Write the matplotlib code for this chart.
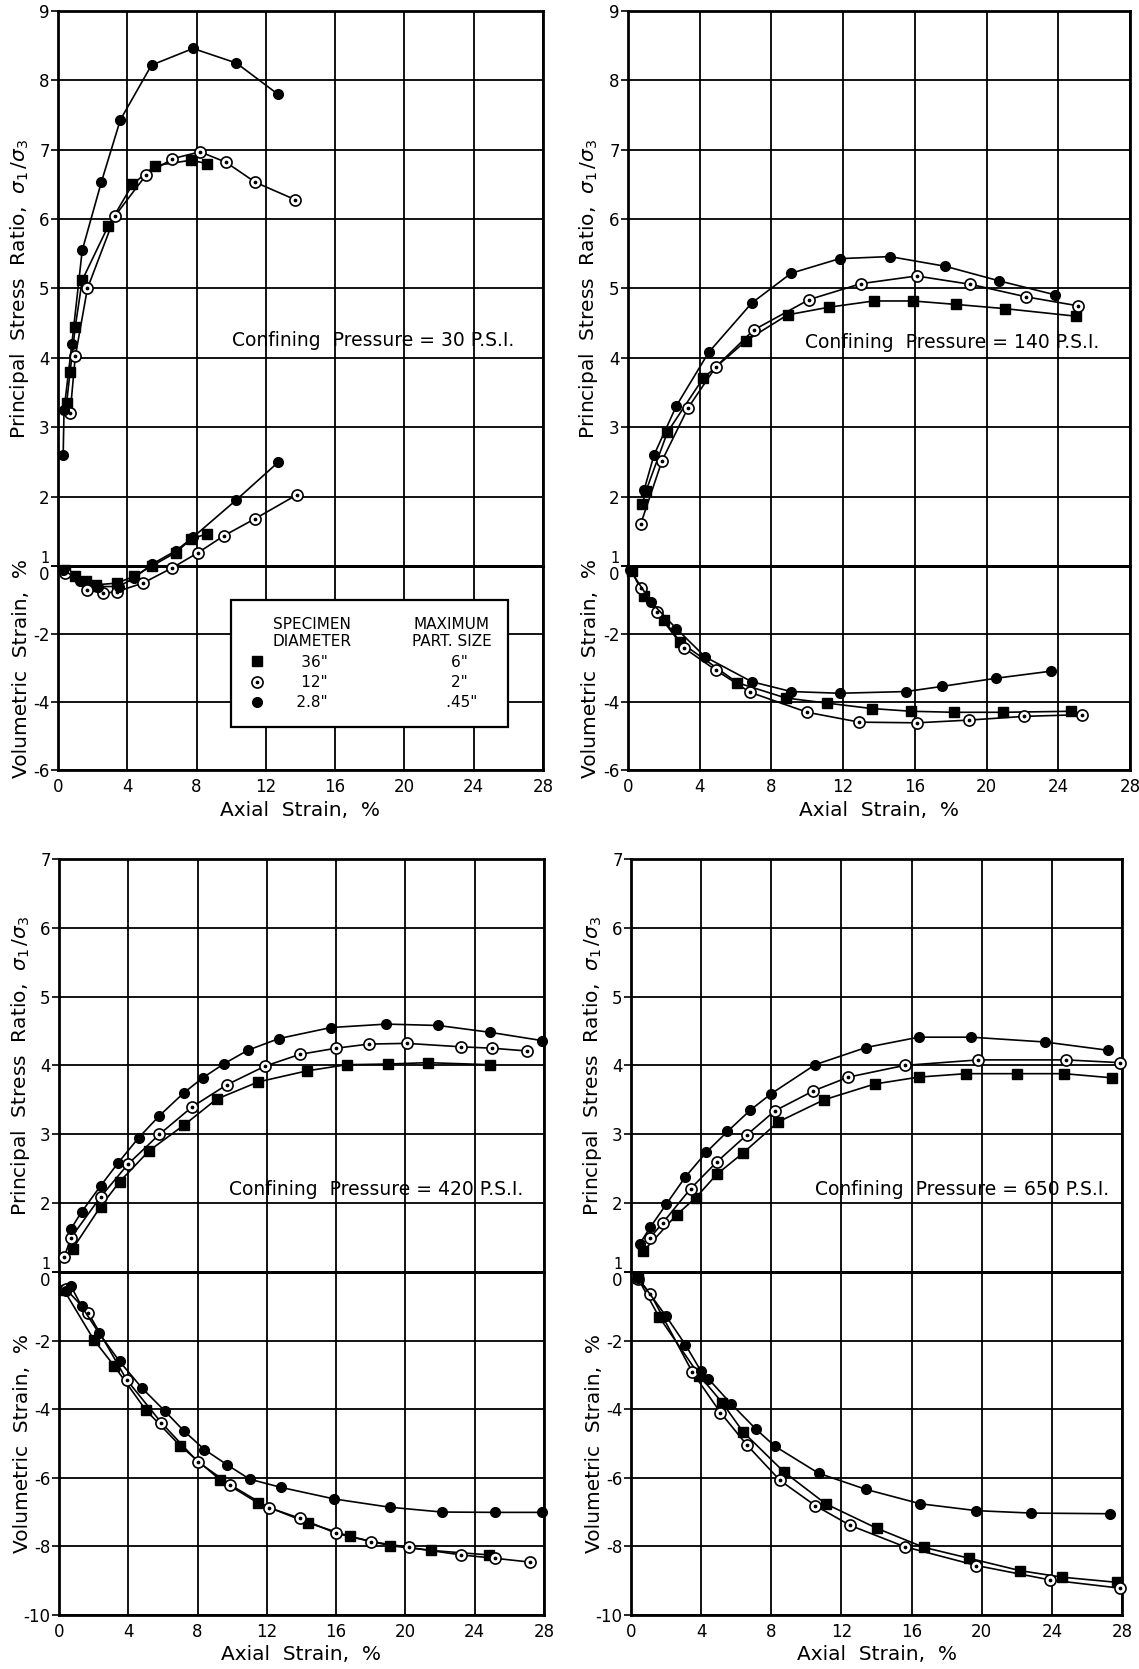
import matplotlib.pyplot as plt
from matplotlib.lines import Line2D

plt.rcParams['font.family'] = 'DejaVu Sans'

# ---- 30 psi ----
p30_ratio_sq_x = [0.5, 0.7, 1.0, 1.4, 2.9, 4.3, 5.6, 7.7, 8.6]
p30_ratio_sq_y = [3.35, 3.8, 4.45, 5.12, 5.9, 6.5, 6.77, 6.85, 6.8]
p30_ratio_op_x = [0.7, 1.0, 1.7, 3.3, 5.1, 6.6, 8.2, 9.7, 11.4, 13.7]
p30_ratio_op_y = [3.2, 4.02, 5.0, 6.05, 6.64, 6.87, 6.97, 6.82, 6.53, 6.28]
p30_ratio_fc_x = [0.3, 0.35, 0.8, 1.4, 2.5, 3.6, 5.4, 7.8, 10.3, 12.7]
p30_ratio_fc_y = [2.6, 3.25, 4.2, 5.55, 6.53, 7.43, 8.22, 8.46, 8.25, 7.8]
p30_vol_sq_x = [0.4, 1.0, 1.6, 2.2, 3.4, 4.4, 5.4, 6.8, 7.7, 8.6]
p30_vol_sq_y = [-0.1, -0.3, -0.45, -0.55, -0.5, -0.3, 0.0, 0.4, 0.8, 0.95]
p30_vol_op_x = [0.4, 1.7, 2.6, 3.4, 4.9, 6.6, 8.1, 9.6, 11.4, 13.8]
p30_vol_op_y = [-0.2, -0.7, -0.8, -0.75, -0.5, -0.05, 0.4, 0.9, 1.4, 2.1]
p30_vol_fc_x = [0.3, 1.3, 2.3, 3.5, 4.4, 5.4, 6.8, 7.8, 10.3, 12.7]
p30_vol_fc_y = [-0.1, -0.45, -0.6, -0.6, -0.35, 0.05, 0.45, 0.85, 1.95, 3.05]

# ---- 140 psi ----
p140_ratio_sq_x = [0.8, 1.0, 2.2, 4.2, 6.6, 8.9, 11.2, 13.7, 15.9, 18.3, 21.0, 25.0]
p140_ratio_sq_y = [1.9, 2.08, 2.93, 3.71, 4.25, 4.62, 4.73, 4.82, 4.82, 4.77, 4.71, 4.6]
p140_ratio_op_x = [0.7, 1.9, 3.35, 4.9, 7.0, 10.1, 13.0, 16.1, 19.1, 22.2, 25.1]
p140_ratio_op_y = [1.6, 2.52, 3.28, 3.87, 4.4, 4.84, 5.07, 5.18, 5.06, 4.88, 4.75]
p140_ratio_fc_x = [0.9, 1.45, 2.7, 4.5, 6.9, 9.1, 11.8, 14.6, 17.7, 20.7, 23.8]
p140_ratio_fc_y = [2.1, 2.6, 3.31, 4.08, 4.79, 5.22, 5.43, 5.46, 5.32, 5.11, 4.91]
p140_vol_sq_x = [0.2, 0.9, 2.0, 2.9, 6.1, 8.8, 11.1, 13.6, 15.8, 18.2, 20.9, 24.7]
p140_vol_sq_y = [-0.15, -0.87, -1.58, -2.23, -3.43, -3.88, -4.03, -4.19, -4.27, -4.3, -4.3, -4.27]
p140_vol_op_x = [0.7, 1.6, 3.1, 4.9, 6.8, 10.0, 12.9, 16.1, 19.0, 22.1, 25.3]
p140_vol_op_y = [-0.63, -1.36, -2.4, -3.06, -3.71, -4.3, -4.59, -4.61, -4.53, -4.42, -4.37]
p140_vol_fc_x = [0.1, 1.3, 2.7, 4.3, 6.9, 9.1, 11.8, 15.5, 17.5, 20.5, 23.6]
p140_vol_fc_y = [-0.1, -1.07, -1.84, -2.67, -3.4, -3.69, -3.74, -3.69, -3.54, -3.3, -3.09]

# ---- 420 psi ----
p420_ratio_sq_x = [0.8, 2.4, 3.5, 5.2, 7.2, 9.1, 11.5, 14.3, 16.6, 19.0, 21.3, 24.9]
p420_ratio_sq_y = [1.34, 1.95, 2.31, 2.76, 3.13, 3.51, 3.76, 3.92, 4.01, 4.02, 4.04, 4.01]
p420_ratio_op_x = [0.3, 0.7, 2.4, 4.0, 5.8, 7.7, 9.7, 11.9, 13.9, 16.0, 17.9, 20.1, 23.2, 25.0, 27.0]
p420_ratio_op_y = [1.22, 1.5, 2.09, 2.57, 3.0, 3.4, 3.72, 3.99, 4.16, 4.25, 4.31, 4.32, 4.27, 4.25, 4.21]
p420_ratio_fc_x = [0.7, 1.3, 2.4, 3.4, 4.6, 5.8, 7.2, 8.3, 9.5, 10.9, 12.7, 15.7, 18.9, 21.9, 24.9, 27.9]
p420_ratio_fc_y = [1.63, 1.87, 2.25, 2.58, 2.95, 3.27, 3.6, 3.82, 4.02, 4.22, 4.39, 4.55, 4.6, 4.58, 4.48, 4.36]
p420_vol_sq_x = [0.3, 2.0, 3.2, 5.0, 7.0, 9.3, 11.5, 14.4, 16.8, 19.1, 21.5, 24.8]
p420_vol_sq_y = [-0.54, -1.97, -2.75, -4.02, -5.07, -6.06, -6.74, -7.32, -7.71, -7.98, -8.12, -8.25]
p420_vol_op_x = [0.4, 1.7, 3.9, 5.9, 8.0, 9.9, 12.1, 13.9, 16.0, 18.0, 20.2, 23.2, 25.2, 27.2]
p420_vol_op_y = [-0.5, -1.2, -3.14, -4.39, -5.53, -6.21, -6.87, -7.18, -7.62, -7.86, -8.03, -8.25, -8.35, -8.46]
p420_vol_fc_x = [0.4, 0.7, 1.3, 2.3, 3.5, 4.8, 6.1, 7.2, 8.4, 9.7, 11.0, 12.8, 15.9, 19.1, 22.1, 25.2, 27.9]
p420_vol_fc_y = [-0.56, -0.42, -1.0, -1.78, -2.61, -3.39, -4.05, -4.63, -5.18, -5.62, -6.04, -6.28, -6.62, -6.86, -7.0, -7.01, -7.01]

# ---- 650 psi ----
p650_ratio_sq_x = [0.7, 2.6, 3.7, 4.9, 6.4, 8.4, 11.0, 13.9, 16.4, 19.1, 22.0, 24.7, 27.4]
p650_ratio_sq_y = [1.3, 1.83, 2.08, 2.42, 2.73, 3.18, 3.5, 3.73, 3.83, 3.88, 3.88, 3.88, 3.82]
p650_ratio_op_x = [1.1, 1.8, 3.4, 4.9, 6.6, 8.2, 10.4, 12.4, 15.6, 19.8, 24.8, 27.9]
p650_ratio_op_y = [1.5, 1.71, 2.21, 2.6, 2.99, 3.34, 3.63, 3.83, 4.0, 4.08, 4.08, 4.04]
p650_ratio_fc_x = [0.5, 1.1, 2.0, 3.1, 4.3, 5.5, 6.8, 8.0, 10.5, 13.4, 16.4, 19.4, 23.6, 27.2]
p650_ratio_fc_y = [1.41, 1.65, 1.98, 2.38, 2.74, 3.04, 3.35, 3.59, 4.01, 4.26, 4.41, 4.41, 4.34, 4.22]
p650_vol_sq_x = [0.4, 1.6, 3.9, 5.2, 6.4, 8.7, 11.1, 14.0, 16.7, 19.3, 22.2, 24.6, 27.7]
p650_vol_sq_y = [-0.19, -1.31, -3.02, -3.81, -4.67, -5.82, -6.76, -7.47, -8.03, -8.35, -8.71, -8.9, -9.05]
p650_vol_op_x = [0.4, 1.1, 3.5, 5.1, 6.6, 8.5, 10.5, 12.5, 15.6, 19.7, 23.9, 27.9]
p650_vol_op_y = [-0.21, -0.63, -2.92, -4.1, -5.04, -6.08, -6.81, -7.39, -8.01, -8.56, -8.98, -9.22]
p650_vol_fc_x = [0.4, 2.0, 3.1, 4.0, 4.4, 5.7, 7.1, 8.2, 10.7, 13.4, 16.5, 19.7, 22.8, 27.3]
p650_vol_fc_y = [-0.17, -1.29, -2.12, -2.9, -3.11, -3.84, -4.57, -5.08, -5.87, -6.34, -6.76, -6.96, -7.03, -7.05]

pressures = ['30', '140', '420', '650']
x_ticks = [0, 4, 8, 12, 16, 20, 24, 28]

fig = plt.figure(figsize=(11.39, 16.69), dpi=100)


def style(ax, yticks):
    ax.set_xlim(0, 28)
    ax.set_xticks(x_ticks)
    ax.set_yticks(yticks)
    ax.set_yticklabels([str(t) for t in yticks])
    ax.grid(True, color='black', lw=1.3)
    ax.set_axisbelow(True)
    ax.tick_params(axis='y', direction='out', length=5, width=1.2, labelsize=12, pad=1)
    ax.tick_params(axis='x', length=0, labelsize=12, pad=6)
    for s in ax.spines.values():
        s.set_linewidth(2.0)
    ax.set_facecolor('none')


def plot_set(ax, sq, op, fc):
    ax.plot(sq[0], sq[1], '-s', color='k', lw=1.2, ms=6.5, clip_on=False, zorder=3)
    ax.plot(op[0], op[1], '-o', color='k', mfc='white', mec='k', mew=1.2, lw=1.2, ms=8,
            clip_on=False, zorder=3)
    ax.plot(op[0], op[1], 'o', color='k', ms=1.7, clip_on=False, zorder=4)
    ax.plot(fc[0], fc[1], '-o', color='k', lw=1.2, ms=7, clip_on=False, zorder=3)


def panel(rect_up, rect_lo, ytop, ybot, ratio, vol, psi, text_xy, lab_x):
    au = fig.add_axes(rect_up)
    al = fig.add_axes(rect_lo)
    style(au, list(range(1, ytop + 1)))
    style(al, list(range(ybot, 1, 2)))
    au.set_ylim(1, ytop)
    al.set_ylim(ybot, 0)
    au.tick_params(axis='x', labelbottom=False)
    au.get_yticklabels()[0].set_va('bottom')
    au.get_yticklabels()[0].set_fontsize(10.5)
    al.get_yticklabels()[-1].set_va('top')
    plot_set(au, *ratio)
    plot_set(al, *vol)
    au.set_ylabel('Principal  Stress  Ratio,  $\\sigma_1\\,/\\sigma_3$', fontsize=14.5)
    al.set_ylabel('Volumetric  Strain,  %', fontsize=14.5)
    au.yaxis.set_label_coords(lab_x, 0.5)
    al.yaxis.set_label_coords(lab_x, 0.5)
    al.set_xlabel('Axial  Strain,  %', fontsize=14.5, labelpad=3)
    au.text(text_xy[0], text_xy[1], 'Confining  Pressure = %s P.S.I.' % psi,
            ha='center', va='center', fontsize=13.5, zorder=5)
    return au, al


top_up_y, top_up_h = 0.6609, 0.3325
top_lo_y, top_lo_h = 0.5386, 0.1222
bot_up_y, bot_up_h = 0.2379, 0.2475
bot_lo_y, bot_lo_h = 0.0324, 0.2055

au, al = panel([0.0509, top_up_y, 0.4258, top_up_h], [0.0509, top_lo_y, 0.4258, top_lo_h], 9, -6,
               ((p30_ratio_sq_x, p30_ratio_sq_y), (p30_ratio_op_x, p30_ratio_op_y),
                (p30_ratio_fc_x, p30_ratio_fc_y)),
               ((p30_vol_sq_x, p30_vol_sq_y), (p30_vol_op_x, p30_vol_op_y),
                (p30_vol_fc_x, p30_vol_fc_y)),
               pressures[0], (18.2, 4.25), -0.055)

# legend
h_sq = Line2D([], [], marker='s', ls='none', color='k', ms=6.5)
h_op = (Line2D([], [], marker='o', ls='none', mfc='white', mec='k', mew=1.2, ms=8),
        Line2D([], [], marker='o', ls='none', color='k', ms=1.7))
h_fc = Line2D([], [], marker='o', ls='none', color='k', ms=7)
blank = Line2D([], [], ls='none')
leg_handles = [blank, h_sq, h_op, h_fc, blank, blank, blank, blank]
leg_labels = ['SPECIMEN\nDIAMETER', '      36"', '      12"', '     2.8"',
              'MAXIMUM\nPART. SIZE', '        6"', '        2"', '       .45"']
leg = al.legend(leg_handles, leg_labels, ncol=2, loc='upper left', mode='expand',
                bbox_to_anchor=(10 / 28, 1 / 6, 16 / 28, 4 / 6), borderaxespad=0,
                fancybox=False, edgecolor='k', framealpha=1, fontsize=11, handlelength=1.2,
                handletextpad=0.4, columnspacing=1.0, labelspacing=0.35, borderpad=1.1)
leg.get_frame().set_linewidth(1.6)
for t in leg.get_texts():
    t.set_multialignment('center')

panel([0.5514, top_up_y, 0.4407, top_up_h], [0.5514, top_lo_y, 0.4407, top_lo_h], 9, -6,
      ((p140_ratio_sq_x, p140_ratio_sq_y), (p140_ratio_op_x, p140_ratio_op_y),
       (p140_ratio_fc_x, p140_ratio_fc_y)),
      ((p140_vol_sq_x, p140_vol_sq_y), (p140_vol_op_x, p140_vol_op_y),
       (p140_vol_fc_x, p140_vol_fc_y)),
      pressures[1], (18.1, 4.22), -0.055)

panel([0.0518, bot_up_y, 0.4258, bot_up_h], [0.0518, bot_lo_y, 0.4258, bot_lo_h], 7, -10,
      ((p420_ratio_sq_x, p420_ratio_sq_y), (p420_ratio_op_x, p420_ratio_op_y),
       (p420_ratio_fc_x, p420_ratio_fc_y)),
      ((p420_vol_sq_x, p420_vol_sq_y), (p420_vol_op_x, p420_vol_op_y),
       (p420_vol_fc_x, p420_vol_fc_y)),
      pressures[2], (18.3, 2.2), -0.055)

panel([0.554, bot_up_y, 0.4311, bot_up_h], [0.554, bot_lo_y, 0.4311, bot_lo_h], 7, -10,
      ((p650_ratio_sq_x, p650_ratio_sq_y), (p650_ratio_op_x, p650_ratio_op_y),
       (p650_ratio_fc_x, p650_ratio_fc_y)),
      ((p650_vol_sq_x, p650_vol_sq_y), (p650_vol_op_x, p650_vol_op_y),
       (p650_vol_fc_x, p650_vol_fc_y)),
      pressures[3], (18.9, 2.2), -0.055)

fig.savefig('out.png', dpi=100, facecolor='white')
